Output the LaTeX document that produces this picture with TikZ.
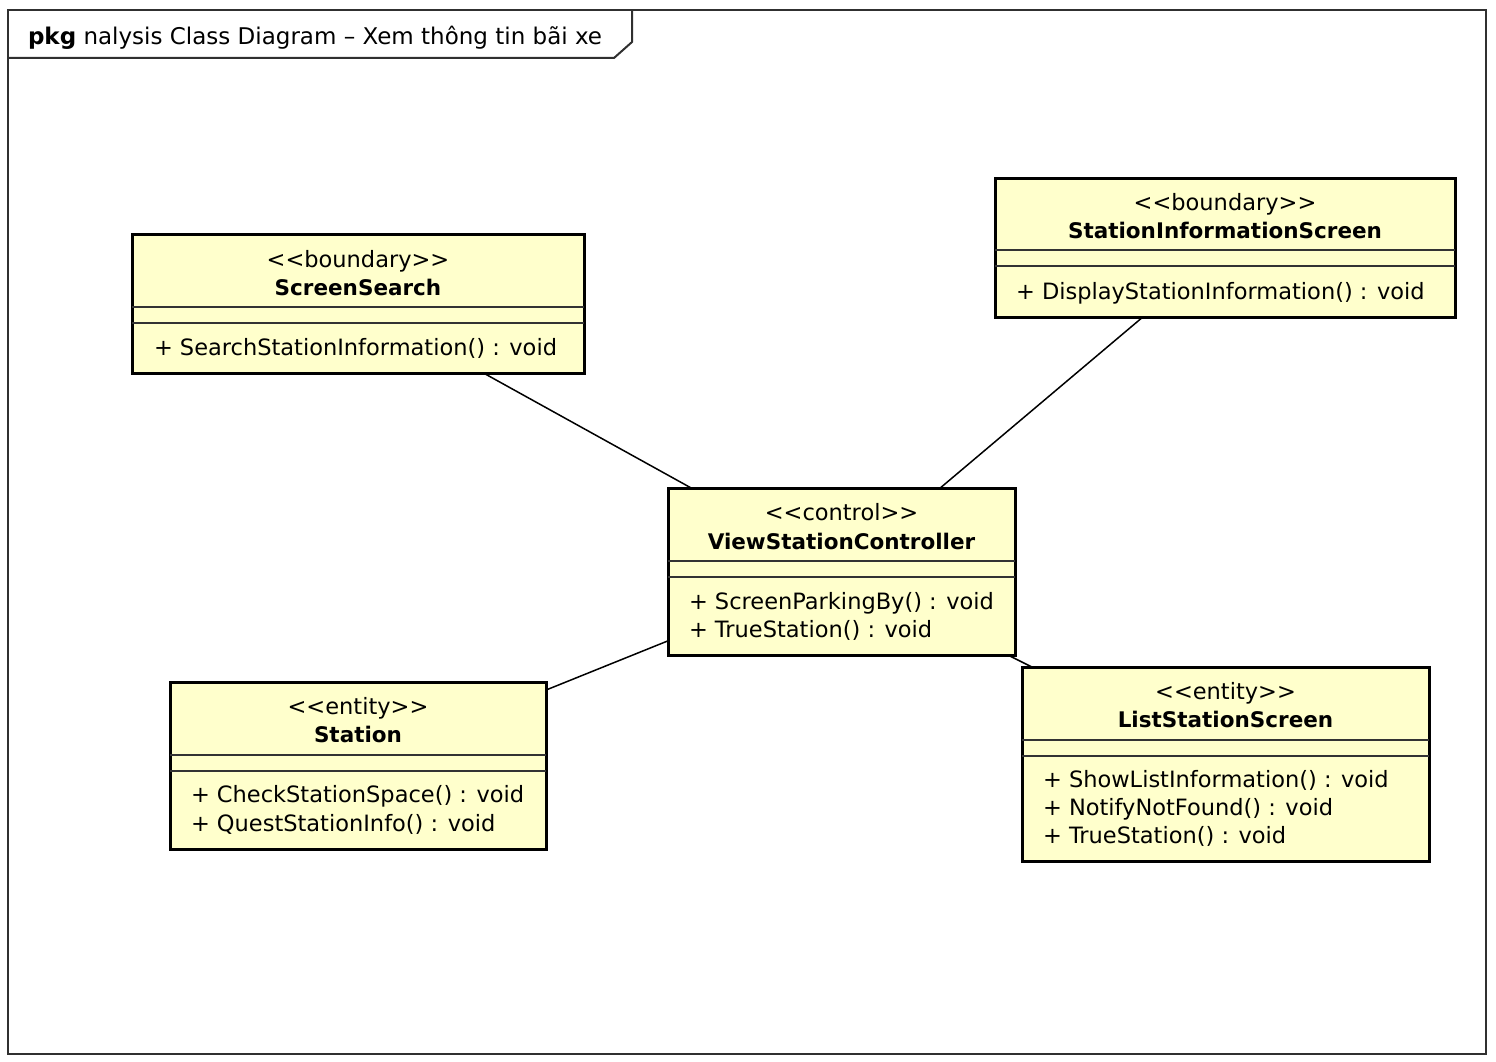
\documentclass[tikz,border=0pt]{standalone}
\usepackage{fontspec}
\setmainfont{DejaVu Sans}
\usepackage{tikz}
\usetikzlibrary{positioning}
\definecolor{classfill}{HTML}{FFFFCC}
\definecolor{framegrey}{HTML}{303030}
\newcommand*{\umlfont}{\fontsize{22.5}{28.5}\selectfont}
\newcommand*{\namefont}{\fontsize{21.5}{28.5}\selectfont\bfseries}
\tikzstyle{classbox}=[draw=black, line width=3pt, fill=classfill, inner sep=0pt, outer sep=0pt]
\tikzstyle{sepline}=[draw=black!80, line width=1.2pt]
\tikzstyle{assoc}=[draw=black, line width=1.5pt]
\tikzstyle{txt}=[inner sep=0pt, outer sep=0pt, anchor=base, font=\umlfont]
\tikzstyle{cname}=[txt, font=\namefont]
\tikzstyle{op}=[txt, anchor=base west]

\begin{document}
\begin{tikzpicture}[x=1pt, y=-1pt]
    \path [use as bounding box] (0,0) rectangle (1496,1062);
    % frame and tab
    \draw [framegrey, line width=2pt] (8,10) rectangle (1486,1054);
    \draw [framegrey, line width=2pt] (8,58) -- (614,58) -- (632,42) -- (632,10);
    \node [txt, anchor=base west, font=\fontsize{23}{28.5}\selectfont] (title) at (28,45) {\textbf{pkg} nalysis Class Diagram – Xem thông tin bãi xe};

    % ScreenSearch
    \node [classbox, minimum width=452pt, minimum height=139pt] (ss) at (358,303.5) {};
    \node [txt] (ss-st) at (358,267) {<{}<boundary>{}>};
    \node [cname] (ss-name) at (358,295) {ScreenSearch};
    \draw [sepline] (ss.west |- 0,307) -- (ss.east |- 0,307);
    \draw [sepline] (ss.west |- 0,323) -- (ss.east |- 0,323);
    \node [op] (ss-op1) at (154,355) {+ SearchStationInformation() : void};

    % StationInformationScreen
    \node [classbox, minimum width=460pt, minimum height=139pt] (sis) at (1225,247.5) {};
    \node [txt] (sis-st) at (1225,210) {<{}<boundary>{}>};
    \node [cname] (sis-name) at (1225,238) {StationInformationScreen};
    \draw [sepline] (sis.west |- 0,250) -- (sis.east |- 0,250);
    \draw [sepline] (sis.west |- 0,266) -- (sis.east |- 0,266);
    \node [op] (sis-op1) at (1016,299) {+ DisplayStationInformation() : void};

    % ViewStationController
    \node [classbox, minimum width=347pt, minimum height=167pt] (vsc) at (841.5,571.5) {};
    \node [txt] (vsc-st) at (841.5,520) {<{}<control>{}>};
    \node [cname] (vsc-name) at (841.5,549) {ViewStationController};
    \draw [sepline] (vsc.west |- 0,561) -- (vsc.east |- 0,561);
    \draw [sepline] (vsc.west |- 0,577) -- (vsc.east |- 0,577);
    \node [op] (vsc-op1) at (689,609) {+ ScreenParkingBy() : void};
    \node [op] (vsc-op2) at (689,637) {+ TrueStation() : void};

    % Station
    \node [classbox, minimum width=376pt, minimum height=167pt] (st) at (358,765.5) {};
    \node [txt] (st-st) at (358,714) {<{}<entity>{}>};
    \node [cname] (st-name) at (358,742) {Station};
    \draw [sepline] (st.west |- 0,755) -- (st.east |- 0,755);
    \draw [sepline] (st.west |- 0,771) -- (st.east |- 0,771);
    \node [op] (st-op1) at (191,802) {+ CheckStationSpace() : void};
    \node [op] (st-op2) at (191,831) {+ QuestStationInfo() : void};

    % ListStationScreen
    \node [classbox, minimum width=407pt, minimum height=194pt] (lss) at (1225.5,764) {};
    \node [txt] (lss-st) at (1225.5,699) {<{}<entity>{}>};
    \node [cname] (lss-name) at (1225.5,727) {ListStationScreen};
    \draw [sepline] (lss.west |- 0,740) -- (lss.east |- 0,740);
    \draw [sepline] (lss.west |- 0,756) -- (lss.east |- 0,756);
    \node [op] (lss-op1) at (1043,787) {+ ShowListInformation() : void};
    \node [op] (lss-op2) at (1043,815) {+ NotifyNotFound() : void};
    \node [op] (lss-op3) at (1043,843) {+ TrueStation() : void};

    % associations
    \draw [assoc] (ss) -- (vsc);
    \draw [assoc] (sis) -- (vsc);
    \draw [assoc] (st) -- (vsc);
    \draw [assoc] (lss) -- (vsc);
\end{tikzpicture}
\end{document}
